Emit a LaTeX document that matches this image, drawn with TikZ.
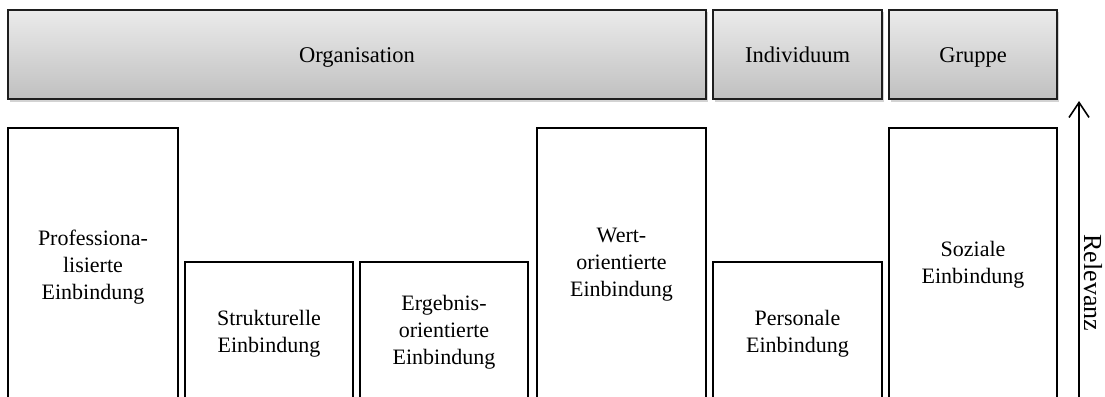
\documentclass[tikz,border=0pt]{standalone}
\usepackage{fontspec}
\setmainfont{Liberation Serif}
\usetikzlibrary{shadows,arrows.meta}
\definecolor{bartop}{HTML}{EBEBEB}
\definecolor{barbot}{HTML}{C0C0C0}
\definecolor{edge}{HTML}{1E1E1E}
\begin{document}
\begin{tikzpicture}[x=1pt,y=1pt,
  bar/.style={draw=edge,line width=2.3pt,top color=bartop,bottom color=barbot,rectangle,
    minimum height=89pt,inner sep=0pt,outer sep=0pt,anchor=north west,
    text height=20pt,text depth=3pt,
    drop shadow={shadow xshift=2pt,shadow yshift=-2.5pt,opacity=0.35},
    font=\fontsize{22.5}{26}\selectfont},
  col/.style={draw=black,line width=2pt,fill=white,rectangle,anchor=north west,
    inner sep=0pt,outer sep=0pt,align=center,font=\fontsize{22}{27}\selectfont}]
\useasboundingbox (0,0) rectangle (1105,-396);
\clip (0,0) rectangle (1105,-396);
% top bars
\node[bar,minimum width=698pt] (org) at (8,-10) {Organisation};
\node[bar,minimum width=169pt] (ind) at (713,-10) {Individuum};
\node[bar,minimum width=168pt] (grp) at (889,-10) {Gruppe};
% columns
\node[col,minimum width=170pt,minimum height=278pt] (c1) at (8,-128) {Professiona-\\lisierte\\Einbindung};
\node[col,minimum width=168pt,minimum height=144pt] (c2) at (185,-262) {Strukturelle\\Einbindung};
\node[col,minimum width=168pt,minimum height=140pt] (c3) at (360,-262) {Ergebnis-\\orientierte\\Einbindung};
\node[col,minimum width=169pt,minimum height=274pt] (c4) at (537,-128) {Wert-\\orientierte\\Einbindung};
\node[col,minimum width=169pt,minimum height=144pt] (c5) at (713,-262) {Personale\\Einbindung};
\node[col,minimum width=168pt,minimum height=274pt] (c6) at (889,-128) {Soziale\\Einbindung};
% relevance axis
\coordinate (abot) at (1079,-400);
\coordinate (atop) at (1079,-101);
\draw[-{Straight Barb[length=15pt,width=20pt]},line width=1.6pt] (abot) -- (atop);
\node[rotate=-90,inner sep=0pt,font=\fontsize{26}{30}\selectfont] (rel) at (1093,-283) {Relevanz};
\end{tikzpicture}
\end{document}
